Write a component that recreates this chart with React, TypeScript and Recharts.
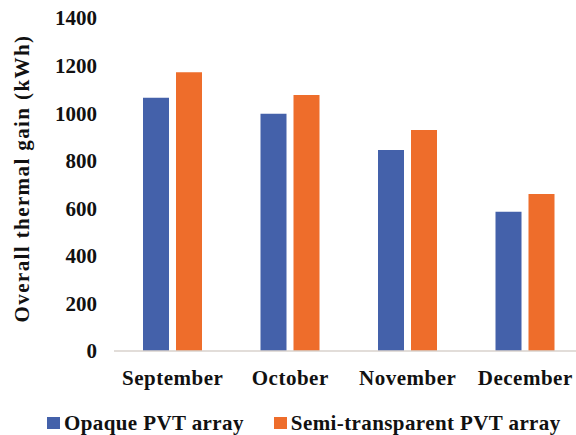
import { BarChart, Bar, XAxis, YAxis, Legend } from "recharts";

const months = ["September", "October", "November", "December"];
const opaque = [1065, 997, 845, 585];
const semiTransparent = [1172, 1076, 929, 660];
const yTicks = [0, 200, 400, 600, 800, 1000, 1200, 1400];

const SERIES = [
  { key: "opaque", name: "Opaque PVT array", color: "#4461aa" },
  { key: "semi", name: "Semi-transparent PVT array", color: "#ee6d2b" },
];

const FONT = "'Liberation Serif', 'Times New Roman', serif";

const data = months.map((m, i) => ({
  month: m,
  opaque: opaque[i],
  semi: semiTransparent[i],
}));

function YTitle(props: any) {
  const vb = props.viewBox || {};
  const cy = (vb.y ?? 18) + (vb.height ?? 333) / 2 - 6;
  return (
    <text
      x={29}
      y={cy}
      transform={`rotate(-90, 29, ${cy})`}
      textAnchor="middle"
      fontFamily={FONT}
      fontWeight="bold"
      fontSize={21}
      letterSpacing={1.4}
      fill="#111"
    >
      Overall thermal gain (kWh)
    </text>
  );
}

function LegendBox() {
  return (
    <div
      style={{
        display: "flex",
        alignItems: "center",
        paddingLeft: 47,
        height: 24,
        fontFamily: FONT,
        fontWeight: "bold",
        fontSize: 21,
        letterSpacing: 0.4,
        color: "#111",
      }}
    >
      {SERIES.map((s, i) => (
        <div
          key={s.key}
          style={{ display: "flex", alignItems: "center", marginRight: i === 0 ? 30 : 0 }}
        >
          <span
            style={{ width: 13, height: 12, background: s.color, marginRight: 4, display: "inline-block" }}
          />
          <span>{s.name}</span>
        </div>
      ))}
    </div>
  );
}

export default function App() {
  return (
    <div
      style={{
        position: "fixed",
        top: 0,
        left: 0,
        width: 576,
        height: 435,
        overflow: "hidden",
        background: "#fff",
      }}
    >
      <BarChart
        width={590}
        height={435}
        data={data}
        margin={{ top: 18, right: 6, left: 0, bottom: 0 }}
        barSize={26}
        barGap={7}
      >
        <XAxis
          dataKey="month"
          height={60}
          tickLine={false}
          tickSize={17}
          tickMargin={2}
          axisLine={{ stroke: "#d8d2cc", strokeWidth: 1.5 }}
          tick={{ fontFamily: FONT, fontWeight: "bold", fontSize: 21, letterSpacing: 0.5, fill: "#111" }}
        />
        <YAxis
          width={114}
          domain={[0, 1400]}
          ticks={yTicks}
          interval={0}
          axisLine={false}
          tickLine={false}
          tickSize={15}
          tickMargin={2}
          tick={{ fontFamily: FONT, fontWeight: "bold", fontSize: 21, fill: "#111" }}
          label={<YTitle />}
        />
        <Legend
          verticalAlign="bottom"
          height={24}
          content={() => <LegendBox />}
          wrapperStyle={{ left: 0, width: 590 }}
        />
        {SERIES.map((s) => (
          <Bar key={s.key} dataKey={s.key} name={s.name} fill={s.color} isAnimationActive={false} />
        ))}
      </BarChart>
    </div>
  );
}
